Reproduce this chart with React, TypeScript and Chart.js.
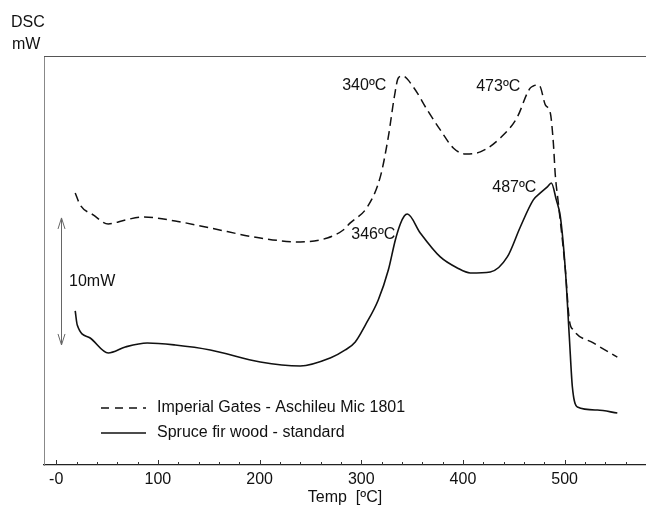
import React, { useEffect, useRef } from 'react';
import { Chart, registerables } from 'chart.js';

Chart.register(...registerables);

// Imperial Gates - Aschileu Mic 1801 (dashed)
const gatesTemp = [18.7, 23.6, 36.4, 51.2, 67.9, 85.6, 117, 151.5, 200.7, 240, 266.6, 282.3, 289.2, 305.9, 318.7, 326.6, 332.5, 336.4, 340.4, 351.2, 364.9, 377.7, 390.5, 402.3, 417.1, 436.8, 453.5, 463.3, 466.3, 469.2, 473.1, 476.1, 481, 485.9, 488.9, 490.8, 493.8, 500.7, 504.6, 508.6, 528.2, 551.8];
const gatesDsc = [21.42, 20.47, 19.69, 18.98, 19.29, 19.53, 19.21, 18.66, 17.87, 17.56, 17.87, 18.5, 19.06, 20.31, 22.68, 25.83, 28.98, 30.47, 30.63, 29.76, 27.95, 26.38, 24.96, 24.49, 24.65, 25.75, 27.4, 29.29, 29.69, 29.84, 29.92, 29.76, 28.35, 27.72, 25.35, 22.83, 20.63, 15.35, 11.42, 10.63, 9.61, 8.5];

// Spruce fir wood - standard (solid)
const spruceTemp = [18.7, 20.7, 33.4, 51.2, 67.9, 89.5, 117, 151.5, 200.7, 240, 269.5, 284.3, 294.1, 304, 316.7, 326.6, 333.5, 338.4, 342.3, 345.3, 358, 377.7, 394.5, 407.2, 426.9, 443.6, 456.4, 469.2, 476.1, 483, 486.9, 491.8, 495.8, 500.7, 504.6, 507.6, 512.5, 532.2, 551.8];
const spruceDsc = [12.13, 11.02, 10.0, 8.82, 9.29, 9.61, 9.45, 9.06, 8.11, 7.8, 8.43, 9.06, 9.69, 11.02, 12.99, 15.35, 17.72, 18.98, 19.61, 19.76, 18.27, 16.38, 15.51, 15.12, 15.2, 16.38, 18.74, 20.87, 21.42, 21.89, 22.2, 20.87, 19.53, 15.35, 10.08, 6.14, 4.57, 4.33, 4.09];

const seriesNames = ['Imperial Gates - Aschileu Mic 1801', 'Spruce fir wood - standard'];

const majorTicks = [0, 100, 200, 300, 400, 500];
const majorTickLabels = ['-0', '100', '200', '300', '400', '500'];

// peak annotations: text, right-edge temperature, DSC level
const peakTexts = ['340ºC', '473ºC', '346ºC', '487ºC'];
const peakTextTemp = [324.6, 456.4, 333.5, 472.2];
const peakTextDsc = [29.84, 29.76, 18.11, 21.81];

// scale bar: 10 mW
const scaleBarTemp = 4.9;
const scaleBarFrom = 9.45;
const scaleBarTo = 19.45;
const scaleBarText = '10mW';

const FONT = '"Liberation Sans", Arial, Helvetica, sans-serif';

const overlayPlugin = {
  id: 'overlay',
  afterDraw(chart: any) {
    const { ctx, chartArea, scales } = chart;
    const xs = scales.x;
    const ys = scales.y;
    ctx.save();

    // top border
    ctx.strokeStyle = '#555';
    ctx.lineWidth = 1;
    ctx.beginPath();
    ctx.moveTo(chartArea.left, chartArea.top + 0.5);
    ctx.lineTo(chartArea.right, chartArea.top + 0.5);
    ctx.stroke();

    // ticks pointing inward
    ctx.strokeStyle = '#333';
    const yAxis = chartArea.bottom;
    for (let v = 0; v <= 580; v += 20) {
      const px = Math.round(xs.getPixelForValue(v)) + 0.5;
      const len = v % 100 === 0 ? 5 : 3;
      ctx.beginPath();
      ctx.moveTo(px, yAxis);
      ctx.lineTo(px, yAxis - len);
      ctx.stroke();
    }

    // axis unit text
    ctx.fillStyle = '#111';
    ctx.font = `16px ${FONT}`;
    ctx.textAlign = 'left';
    ctx.textBaseline = 'middle';
    ctx.fillText('DSC', 11, 23);
    ctx.fillText('mW', 12, 45);

    // peak labels
    ctx.textAlign = 'right';
    peakTexts.forEach((t, i) => {
      ctx.fillText(t, xs.getPixelForValue(peakTextTemp[i]), ys.getPixelForValue(peakTextDsc[i]));
    });

    // scale bar arrow
    const ax = Math.round(xs.getPixelForValue(scaleBarTemp)) + 0.5;
    const ay1 = ys.getPixelForValue(scaleBarTo);
    const ay2 = ys.getPixelForValue(scaleBarFrom);
    ctx.strokeStyle = '#666';
    ctx.lineWidth = 1;
    ctx.beginPath();
    ctx.moveTo(ax, ay1);
    ctx.lineTo(ax, ay2);
    ctx.moveTo(ax - 3.5, ay1 + 11);
    ctx.lineTo(ax, ay1);
    ctx.lineTo(ax + 3.5, ay1 + 11);
    ctx.moveTo(ax - 3.5, ay2 - 11);
    ctx.lineTo(ax, ay2);
    ctx.lineTo(ax + 3.5, ay2 - 11);
    ctx.stroke();
    ctx.textAlign = 'left';
    ctx.fillText(scaleBarText, 69, (ay1 + ay2) / 2);

    // legend
    ctx.strokeStyle = '#111';
    ctx.lineWidth = 1.5;
    const ly = [408, 433];
    ctx.setLineDash([8, 6]);
    ctx.beginPath();
    ctx.moveTo(101, ly[0]);
    ctx.lineTo(146, ly[0]);
    ctx.stroke();
    ctx.setLineDash([]);
    ctx.beginPath();
    ctx.moveTo(101, ly[1]);
    ctx.lineTo(146, ly[1]);
    ctx.stroke();
    ctx.fillText(seriesNames[0], 157, ly[0]);
    ctx.fillText(seriesNames[1], 157, ly[1]);

    ctx.restore();
  },
};

export default function App() {
  const canvasRef = useRef<HTMLCanvasElement | null>(null);

  useEffect(() => {
    if (!canvasRef.current) return;
    const chart = new Chart(canvasRef.current, {
      type: 'line',
      data: {
        datasets: [
          {
            label: seriesNames[0],
            data: gatesTemp.map((t, i) => ({ x: t, y: gatesDsc[i] })),
            borderColor: '#111',
            borderWidth: 1.5,
            borderDash: [9, 5],
            pointRadius: 0,
            cubicInterpolationMode: 'monotone',
            fill: false,
          },
          {
            label: seriesNames[1],
            data: spruceTemp.map((t, i) => ({ x: t, y: spruceDsc[i] })),
            borderColor: '#111',
            borderWidth: 1.6,
            pointRadius: 0,
            cubicInterpolationMode: 'monotone',
            fill: false,
          },
        ],
      },
      options: {
        animation: false,
        responsive: false,
        maintainAspectRatio: false,
        layout: { padding: { left: 44, top: 56, right: 0, bottom: 0 } },
        plugins: { legend: { display: false }, tooltip: { enabled: false } },
        scales: {
          x: {
            type: 'linear',
            min: -12,
            max: 580,
            grid: { display: false, drawTicks: false },
            border: { display: true, color: '#222', width: 1.2 },
            afterBuildTicks: (s: any) => {
              s.ticks = majorTicks.map((v) => ({ value: v }));
            },
            ticks: {
              autoSkip: false,
              maxRotation: 0,
              padding: 5,
              color: '#111',
              font: { family: FONT, size: 16 },
              callback: (v: any) => {
                const i = majorTicks.indexOf(Number(v));
                return i >= 0 ? majorTickLabels[i] : '';
              },
            },
            title: {
              display: true,
              text: 'Temp  [ºC]',
              color: '#111',
              font: { family: FONT, size: 16 },
              padding: { top: 0, bottom: 0 },
            },
            afterFit: (s: any) => {
              s.height = 42;
            },
          },
          y: {
            type: 'linear',
            min: 0,
            max: 32.2,
            ticks: { display: false },
            grid: { display: false, drawTicks: false },
            border: { display: true, color: '#888', width: 1 },
            afterFit: (s: any) => {
              s.width = 0;
            },
          },
        },
      },
      plugins: [overlayPlugin],
    });
    return () => chart.destroy();
  }, []);

  return (
    <div style={{ position: 'absolute', left: 0, top: 0, width: 646, height: 507, background: '#fff' }}>
      <canvas ref={canvasRef} width={646} height={507} style={{ display: 'block' }} />
    </div>
  );
}
